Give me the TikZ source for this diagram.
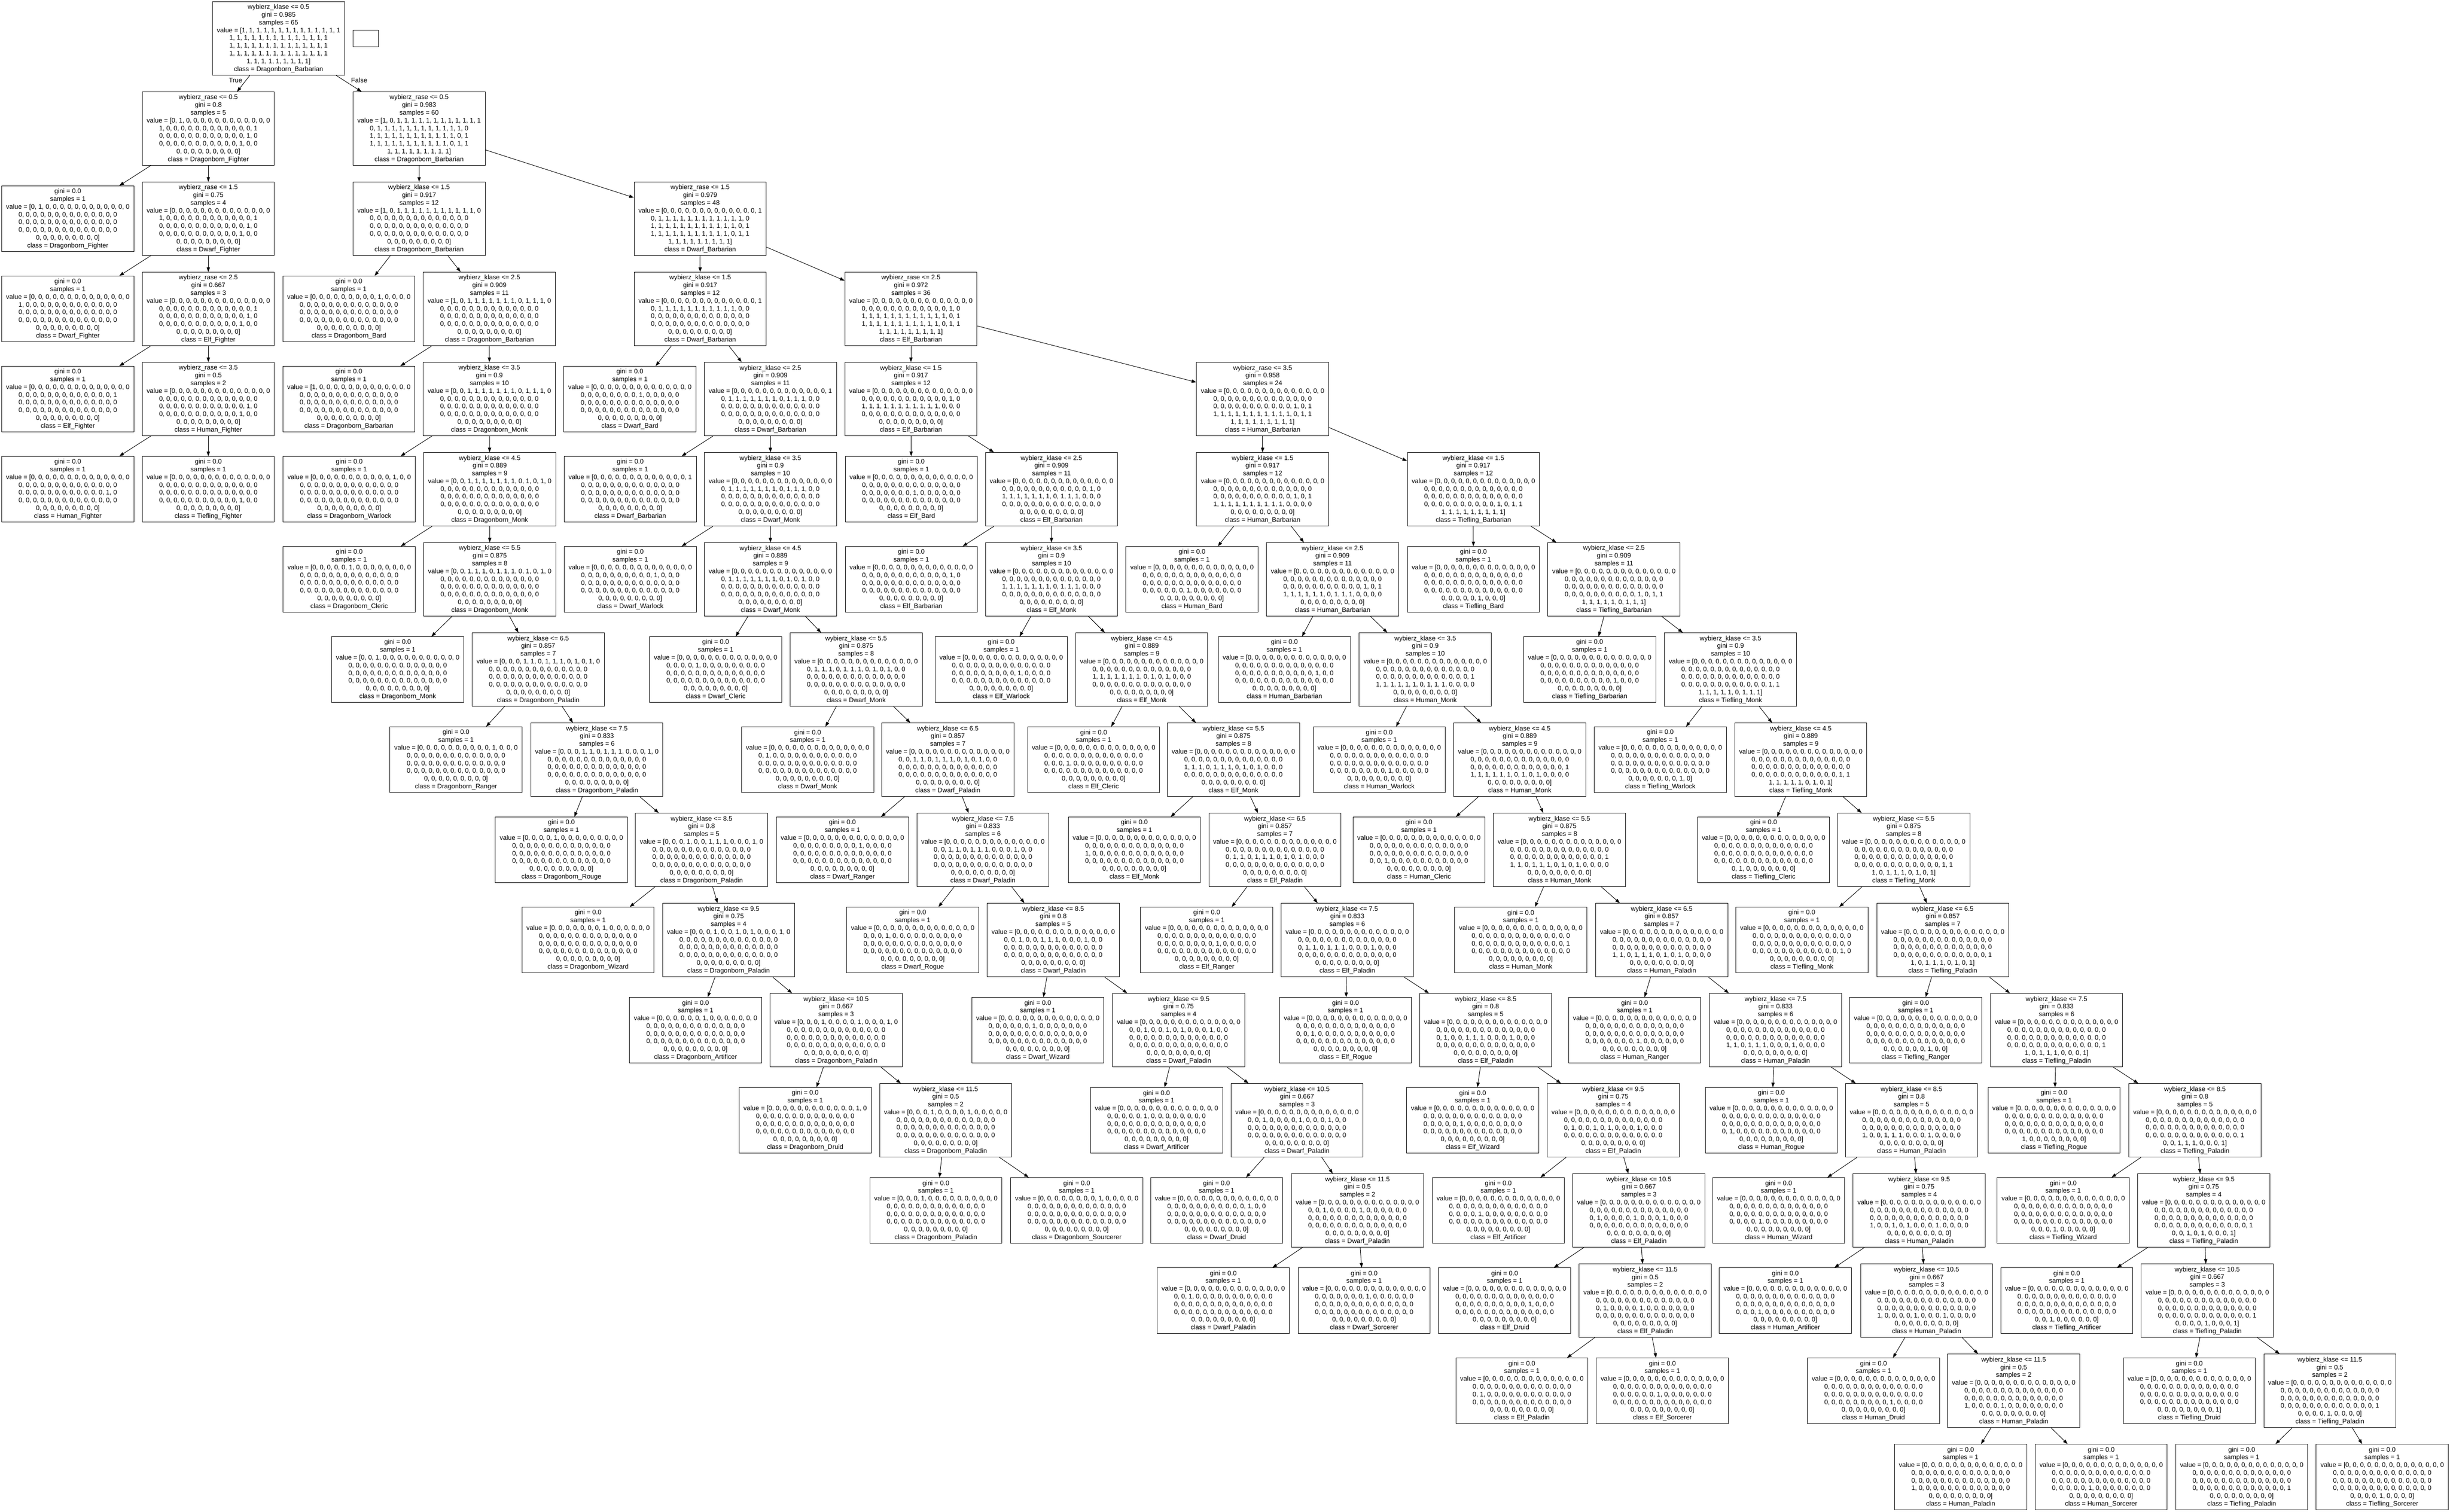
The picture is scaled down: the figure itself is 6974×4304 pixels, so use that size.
\documentclass[tikz,border=0pt]{standalone}
\usepackage{fontspec}
\setmainfont{Liberation Sans}
\usetikzlibrary{arrows.meta}

\newcommand\nodefont{\fontsize{9.33pt}{11pt}\selectfont}
\newcommand\rk[1]{\ifcase#1 109.5\or 366.2\or 622.8\or 879.5\or 1136.2\or 1392.9\or 1649.5\or 1906.2\or 2162.9\or 2419.5\or 2676.2\or 2932.9\or 3189.5\or 3446.2\or 3702.9\or 3959.6\or 4205\fi}

\tikzset{
  treebox/.style={draw, line width=0.67pt, rectangle, inner sep=0pt, minimum width=188pt, align=center, font=\nodefont},
  decbox/.style={treebox, minimum height=104.5pt},
  leafbox/.style={treebox, minimum height=93.5pt},
  edgeline/.style={line width=0.67pt, -{Triangle[length=6.67pt,width=4.67pt]}},
  lbl/.style={inner sep=0pt, font=\nodefont},
  blankbox/.style={draw, line width=0.67pt, inner sep=0pt, minimum width=36.5pt, minimum height=23.8pt},
}

\newcommand\DecNode[9]{%
  \edef\dty{\rk{#3}}\pgfmathsetmacro\dtx{#2+188}%
  \node[decbox] (#1) at (\dtx,\dty) {wybierz\_#4 <= #5\\gini = #7\\samples = #6\\\UseVal\\class = #8\_#9};}
\newcommand\LeafNode[5]{%
  \edef\dty{\rk{#3}}\pgfmathsetmacro\dtx{#2+188}%
  \node[leafbox] (#1) at (\dtx,\dty) {gini = 0.0\\samples = 1\\\UseVal\\class = #4\_#5};}
\newcommand\Edge[2]{\draw[edgeline] (#1) -- (#2);}

\ExplSyntaxOn
\clist_const:Nn \c_dt_code_clist {2,0,5,11,7,4,9,8,12,1,6,3,10}
\clist_const:Nn \c_dt_gini_clist {0.917,0.909,0.9,0.889,0.875,0.857,0.833,0.8,0.75,0.667,0.5}
\clist_const:Nn \c_dt_dcls_clist {Barbarian,Barbarian,Monk,Monk,Monk,Paladin,Paladin,Paladin,Paladin,Paladin,Paladin}
\tl_new:N \l_dt_val_tl
\int_new:N \l_dt_r_int
\int_new:N \l_dt_k_int
\cs_new_protected:Npn \dt_setval:nnnn #1#2#3#4
  {
    \tl_set:Nn \l_dt_val_tl { value~=~[ }
    \int_step_inline:nnn {0} {64}
      {
        \int_compare:nNnT {##1} > {0}
          {
            \int_compare:nNnTF { \int_mod:nn {##1} {14} } = {0}
              { \tl_put_right:Nn \l_dt_val_tl { \\ } }
              { \tl_put_right:Nn \l_dt_val_tl { ,~ } }
          }
        \int_set:Nn \l_dt_r_int { \int_div_truncate:nn {##1} {13} }
        \int_set:Nn \l_dt_k_int { \clist_item:Nn \c_dt_code_clist { \int_mod:nn {##1} {13} + 1 } }
        \bool_lazy_and:nnTF
          { \int_compare_p:n { #1 <= \l_dt_r_int <= #2 } }
          { \int_compare_p:n { #3 <= \l_dt_k_int <= #4 } }
          { \tl_put_right:Nn \l_dt_val_tl { 1 } }
          { \tl_put_right:Nn \l_dt_val_tl { 0 } }
      }
    \tl_put_right:Nn \l_dt_val_tl { ] }
  }
\NewDocumentCommand \SetVal { m m m m } { \dt_setval:nnnn {#1} {#2} {#3} {#4} }
\NewDocumentCommand \UseVal { } { \tl_use:N \l_dt_val_tl }

\cs_new_protected:Npn \dt_chain:nnnnnn #1#2#3#4#5#6
  {
    \int_step_inline:nnn {1} {11}
      {
        \dt_setval:nnnn {#1} {#1} {##1} {12}
        \use:e
          {
            \exp_not:N \DecNode
              { r#1d##1 }
              { \clist_item:nn {#4} {##1} }
              { \int_eval:n { #3 + ##1 - 1 } }
              { klase }
              { ##1.5 }
              { \int_eval:n { 13 - ##1 } }
              { \clist_item:Nn \c_dt_gini_clist {##1} }
              { #2 }
              { \clist_item:Nn \c_dt_dcls_clist {##1} }
          }
      }
    \int_step_inline:nnn {1} {12}
      {
        \dt_setval:nnnn {#1} {#1} {##1} {##1}
        \use:e
          {
            \exp_not:N \LeafNode
              { r#1l##1 }
              { \clist_item:nn {#5} {##1} }
              { \int_eval:n { #3 + \int_min:nn {##1} {11} } }
              { #2 }
              { \clist_item:nn {#6} {##1} }
          }
      }
    \int_step_inline:nnn {1} {10}
      {
        \use:e
          {
            \exp_not:N \Edge { r#1d##1 } { r#1l##1 }
            \exp_not:N \Edge { r#1d##1 } { r#1d \int_eval:n { ##1 + 1 } }
          }
      }
    \Edge { r#1d11 } { r#1l11 }
    \Edge { r#1d11 } { r#1l12 }
  }
\NewDocumentCommand \Chain { m m m m m m } { \dt_chain:nnnnnn {#1} {#2} {#3} {#4} {#5} {#6} }
\ExplSyntaxOff

\begin{document}
\begin{tikzpicture}[x=0.5pt,y=-0.5pt]
\fill[white] (0,0) rectangle (6974,4304);
\useasboundingbox (0,0) rectangle (6974,4304);

\SetVal{0}{4}{0}{12}\DecNode{root}{605}{0}{klase}{0.5}{65}{0.985}{Dragonborn}{Barbarian}
\node[blankbox] (blank) at (1040.8,109.5) {};

\SetVal{0}{4}{0}{0}\DecNode{fa}{405}{1}{rase}{0.5}{5}{0.8}{Dragonborn}{Fighter}
\SetVal{0}{4}{1}{12}\DecNode{ba}{1005}{1}{rase}{0.5}{60}{0.983}{Dragonborn}{Barbarian}
\SetVal{1}{4}{0}{0}\DecNode{fb}{405}{2}{rase}{1.5}{4}{0.75}{Dwarf}{Fighter}
\SetVal{2}{4}{0}{0}\DecNode{fc}{405}{3}{rase}{2.5}{3}{0.667}{Elf}{Fighter}
\SetVal{3}{4}{0}{0}\DecNode{fd}{405}{4}{rase}{3.5}{2}{0.5}{Human}{Fighter}
\SetVal{0}{0}{0}{0}\LeafNode{fl0}{5}{2}{Dragonborn}{Fighter}
\SetVal{1}{1}{0}{0}\LeafNode{fl1}{5}{3}{Dwarf}{Fighter}
\SetVal{2}{2}{0}{0}\LeafNode{fl2}{5}{4}{Elf}{Fighter}
\SetVal{3}{3}{0}{0}\LeafNode{fl3}{5}{5}{Human}{Fighter}
\SetVal{4}{4}{0}{0}\LeafNode{fl4}{405}{5}{Tiefling}{Fighter}
\SetVal{1}{4}{1}{12}\DecNode{bb}{1805}{2}{rase}{1.5}{48}{0.979}{Dwarf}{Barbarian}
\SetVal{2}{4}{1}{12}\DecNode{bc}{2405}{3}{rase}{2.5}{36}{0.972}{Elf}{Barbarian}
\SetVal{3}{4}{1}{12}\DecNode{bd}{3406}{4}{rase}{3.5}{24}{0.958}{Human}{Barbarian}

\Chain{0}{Dragonborn}{2}
  {1005,1205,1205,1206,1206,1344,1511,1809,1886,2192,2504}
  {805,805,806,806,944,1110,1410,1486,1792,2104,2476,2877}
  {Bard,Barbarian,Warlock,Cleric,Monk,Ranger,Rouge,Wizard,Artificer,Druid,Paladin,Sourcerer}
\Chain{1}{Dwarf}{3}
  {1805,2005,2005,2005,2249,2510,2610,2810,3167,3504,3676}
  {1605,1606,1606,1849,2111,2210,2410,2766,3104,3275,3294,3695}
  {Bard,Barbarian,Warlock,Cleric,Monk,Ranger,Rogue,Wizard,Artificer,Druid,Paladin,Sorcerer}
\Chain{2}{Elf}{4}
  {2405,2805,2805,3062,3323,3441,3647,4041,4404,4477,4495}
  {2406,2406,2662,2925,3041,3247,3642,4004,4077,4095,4144,4544}
  {Bard,Barbarian,Warlock,Cleric,Monk,Ranger,Rogue,Wizard,Artificer,Druid,Paladin,Sorcerer}
\Chain{3}{Human}{5}
  {3406,3605,3869,4138,4251,4542,4866,5253,5275,5296,5544}
  {3205,3468,3738,3851,4141,4465,4854,4875,4894,5145,5393,5793}
  {Bard,Barbarian,Warlock,Cleric,Monk,Ranger,Rogue,Wizard,Artificer,Druid,Paladin,Sorcerer}
\Chain{4}{Tiefling}{5}
  {4006,4406,4738,4938,5231,5342,5666,6060,6085,6095,6444}
  {4006,4337,4538,4832,4941,5265,5659,5685,5695,6044,6193,6593}
  {Bard,Barbarian,Warlock,Cleric,Monk,Ranger,Rogue,Wizard,Artificer,Druid,Paladin,Sorcerer}

\Edge{root}{fa}
\Edge{root}{ba}
\Edge{fa}{fl0}
\Edge{fa}{fb}
\Edge{fb}{fl1}
\Edge{fb}{fc}
\Edge{fc}{fl2}
\Edge{fc}{fd}
\Edge{fd}{fl3}
\Edge{fd}{fl4}
\Edge{ba}{r0d1}
\Edge{ba}{bb}
\Edge{bb}{r1d1}
\Edge{bb}{bc}
\Edge{bc}{r2d1}
\Edge{bc}{bd}
\Edge{bd}{r3d1}
\Edge{bd}{r4d1}

\node[lbl] (truelbl) at (670.5,229) {True};
\node[lbl] (falselbl) at (1022.5,229) {False};
\end{tikzpicture}
\end{document}
